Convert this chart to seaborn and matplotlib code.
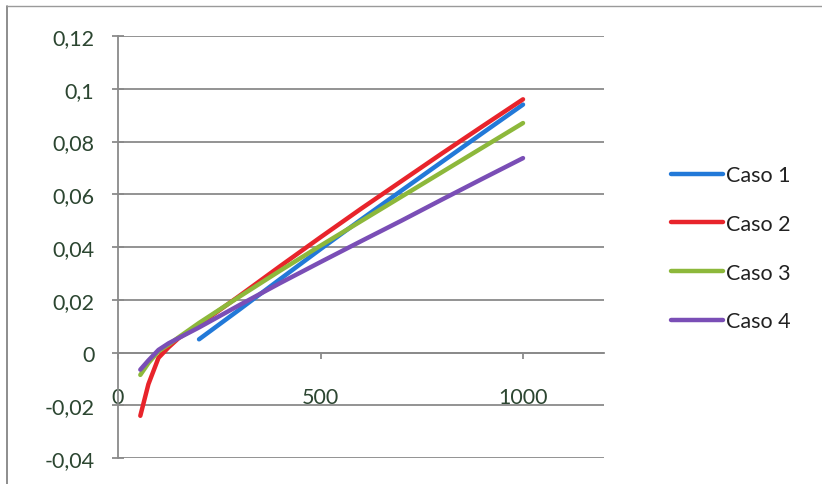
import matplotlib
matplotlib.use("Agg")
import matplotlib.pyplot as plt
from matplotlib.lines import Line2D
import seaborn as sns
import pandas as pd

# Load (x) and response for each case
x_full = [55, 75, 100, 125, 150, 200, 300, 400, 500, 600, 700, 800, 900, 1000]
x_caso1 = [200, 300, 400, 500, 600, 700, 800, 900, 1000]

caso1 = [0.005, 0.0163, 0.0278, 0.0392, 0.0504, 0.0614, 0.0723, 0.0832, 0.094]
caso2 = [-0.024, -0.012, -0.002, 0.002, 0.0055, 0.0105, 0.0215, 0.0327, 0.0437,
         0.0545, 0.065, 0.0755, 0.0858, 0.096]
caso3 = [-0.0085, -0.004, 0.0005, 0.003, 0.0058, 0.0112, 0.0212, 0.031, 0.0405,
         0.0498, 0.0591, 0.0684, 0.0777, 0.087]
caso4 = [-0.0065, -0.003, 0.001, 0.0035, 0.0055, 0.0095, 0.018, 0.0263, 0.0343,
         0.0422, 0.050, 0.058, 0.0659, 0.0737]

labels = ["Caso 1", "Caso 2", "Caso 3", "Caso 4"]
colors = ["#2279d8", "#e8242b", "#8db83b", "#7a4eb6"]

y_ticks = [-0.04, -0.02, 0, 0.02, 0.04, 0.06, 0.08, 0.1, 0.12]
y_tick_labels = ["-0,04", "-0,02", "0", "0,02", "0,04", "0,06", "0,08", "0,1", "0,12"]
x_ticks = [0, 500, 1000]
x_tick_labels = ["0", "500", "1000"]

frames = []
for name, xs, ys in [(labels[0], x_caso1, caso1), (labels[1], x_full, caso2),
                     (labels[2], x_full, caso3), (labels[3], x_full, caso4)]:
    frames.append(pd.DataFrame({"x": xs, "y": ys, "Caso": name}))
df = pd.concat(frames, ignore_index=True)

sns.set_style("white")
plt.rcParams["font.family"] = ["Lato", "DejaVu Sans"]

fig = plt.figure(figsize=(8.22, 4.85), dpi=100)
ax = fig.add_axes([0.1436, 0.0536, 0.5912, 0.8701])

grid_c = "#8a8a8a"
for yv in y_ticks:
    ax.axhline(yv, color=grid_c, lw=1.3, zorder=0)

sns.lineplot(data=df, x="x", y="y", hue="Caso", palette=dict(zip(labels, colors)),
             sort=False, lw=3.2, legend=False, ax=ax, zorder=3,
             solid_capstyle="round", solid_joinstyle="round")

ax.set_xlim(0, 1200)
ax.set_ylim(-0.04, 0.12)
ax.set_xlabel("")
ax.set_ylabel("")

for s in ["top", "right"]:
    ax.spines[s].set_visible(False)
ax.spines["bottom"].set_position(("data", 0))
ax.spines["bottom"].set_color(grid_c)
ax.spines["bottom"].set_linewidth(1.3)
ax.spines["left"].set_color(grid_c)
ax.spines["left"].set_linewidth(1.3)

ax.set_yticks(y_ticks)
ax.set_yticklabels(y_tick_labels)
ax.set_xticks(x_ticks)
ax.set_xticklabels(x_tick_labels)

tick_c = "#2c4631"
fs = 15.5
ax.tick_params(axis="y", direction="inout", length=8, width=1.3, color=grid_c,
               pad=13, labelsize=fs, labelcolor=tick_c, left=True)
ax.tick_params(axis="x", direction="out", length=4, width=1.3, color=grid_c,
               pad=20.5, labelsize=fs, labelcolor=tick_c, bottom=True)

handles = [Line2D([0], [0], color=c, lw=3.2) for c in colors]
fig.legend(handles, labels, loc="upper left", bbox_to_anchor=(0.793, 0.697),
           frameon=False, fontsize=fs, handlelength=2.4, handletextpad=0.15,
           labelspacing=1.33, labelcolor="#222222")

# outer chart border
fig.add_artist(Line2D([0.008, 0.008], [0.0, 0.985], transform=fig.transFigure,
                      color="#7a7a7a", lw=1.2))
fig.add_artist(Line2D([0.008, 1.0], [0.985, 0.985], transform=fig.transFigure,
                      color="#9a9a9a", lw=1.0))

fig.savefig("out.png", dpi=100)
